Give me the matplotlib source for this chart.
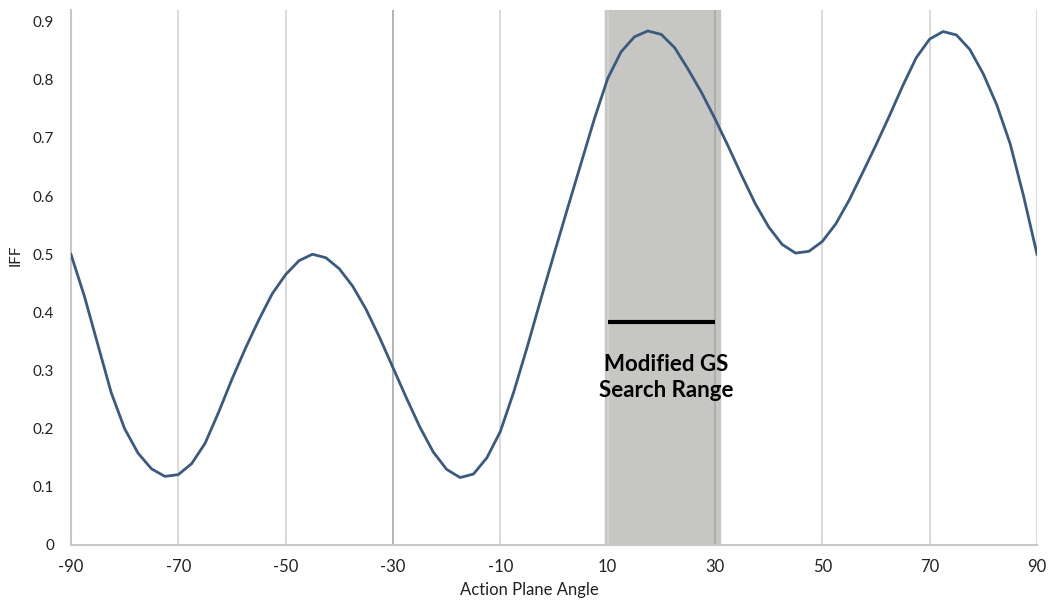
import matplotlib
matplotlib.use("Agg")
import matplotlib.pyplot as plt
import numpy as np

plt.rcParams["font.family"] = ["Lato", "DejaVu Sans"]

# IFF, every 2.5 degrees
angles = np.arange(-90, 90.1, 2.5)
iff = [
    0.500, 0.428, 0.345, 0.262, 0.200, 0.158, 0.131, 0.118,
    0.121, 0.140, 0.175, 0.228, 0.285, 0.338, 0.387, 0.432,
    0.465, 0.489, 0.500, 0.494, 0.475, 0.445, 0.405, 0.357,
    0.305, 0.253, 0.203, 0.160, 0.130, 0.116, 0.122, 0.150,
    0.195, 0.263, 0.340, 0.421, 0.500, 0.578, 0.655, 0.732,
    0.802, 0.848, 0.874, 0.884, 0.878, 0.855, 0.818, 0.778,
    0.733, 0.685, 0.635, 0.587, 0.547, 0.517, 0.502, 0.505,
    0.522, 0.552, 0.593, 0.640, 0.688, 0.738, 0.790, 0.838,
    0.870, 0.883, 0.877, 0.852, 0.810, 0.757, 0.690, 0.600,
    0.500,
]

xticks = np.arange(-90, 91, 20)
yticks = np.arange(0, 0.91, 0.1)
ytick_labels = ["0"] + [f"{v:.1f}" for v in yticks[1:]]

shade_lo, shade_hi = 9.5, 31.0
range_lo, range_hi, range_y = 10, 30, 0.384

fig = plt.figure(figsize=(10.48, 6.03), dpi=100)
ax = fig.add_axes([0.0677, 0.0962, 0.9218, 0.8872])

ax.axvspan(shade_lo, shade_hi, color="#c6c7c3", zorder=0)
for x in xticks:
    gc = "#a8a8a8" if x in (-30, 30) else "#d4d4d4"
    ax.axvline(x, color=gc, linewidth=1.2, zorder=1)

ax.plot(angles, iff, color="#3a5a80", linewidth=2.0, zorder=3,
        solid_joinstyle="round")

ax.hlines(range_y, range_lo, range_hi, color="black", linewidth=3, zorder=4)
ax.text(21, 0.288, "Modified GS\nSearch Range", ha="center", va="center",
        fontsize=16, fontweight="bold", linespacing=1.3, zorder=5)

ax.set_xlim(-90, 90)
ax.set_ylim(0, 0.92)
ax.set_xticks(xticks)
ax.set_xticklabels([str(v) for v in xticks], fontsize=12)
ax.set_yticks(yticks)
ax.set_yticklabels(ytick_labels, fontsize=11)
ax.tick_params(length=0, pad=10, colors="#222222")
ax.tick_params(axis="y", pad=12)

for s in ("top", "right"):
    ax.spines[s].set_visible(False)
for s in ("left", "bottom"):
    ax.spines[s].set_color("#c8c8c8")
    ax.spines[s].set_linewidth(1.5)

ax.set_xlabel("Action Plane Angle", fontsize=12, color="#222222", labelpad=4)
ax.xaxis.set_label_coords(0.475, -0.07)
ax.set_ylabel("IFF", fontsize=11, color="#222222")
ax.yaxis.set_label_coords(-0.05, 0.542)

fig.savefig("out.png", dpi=100)
